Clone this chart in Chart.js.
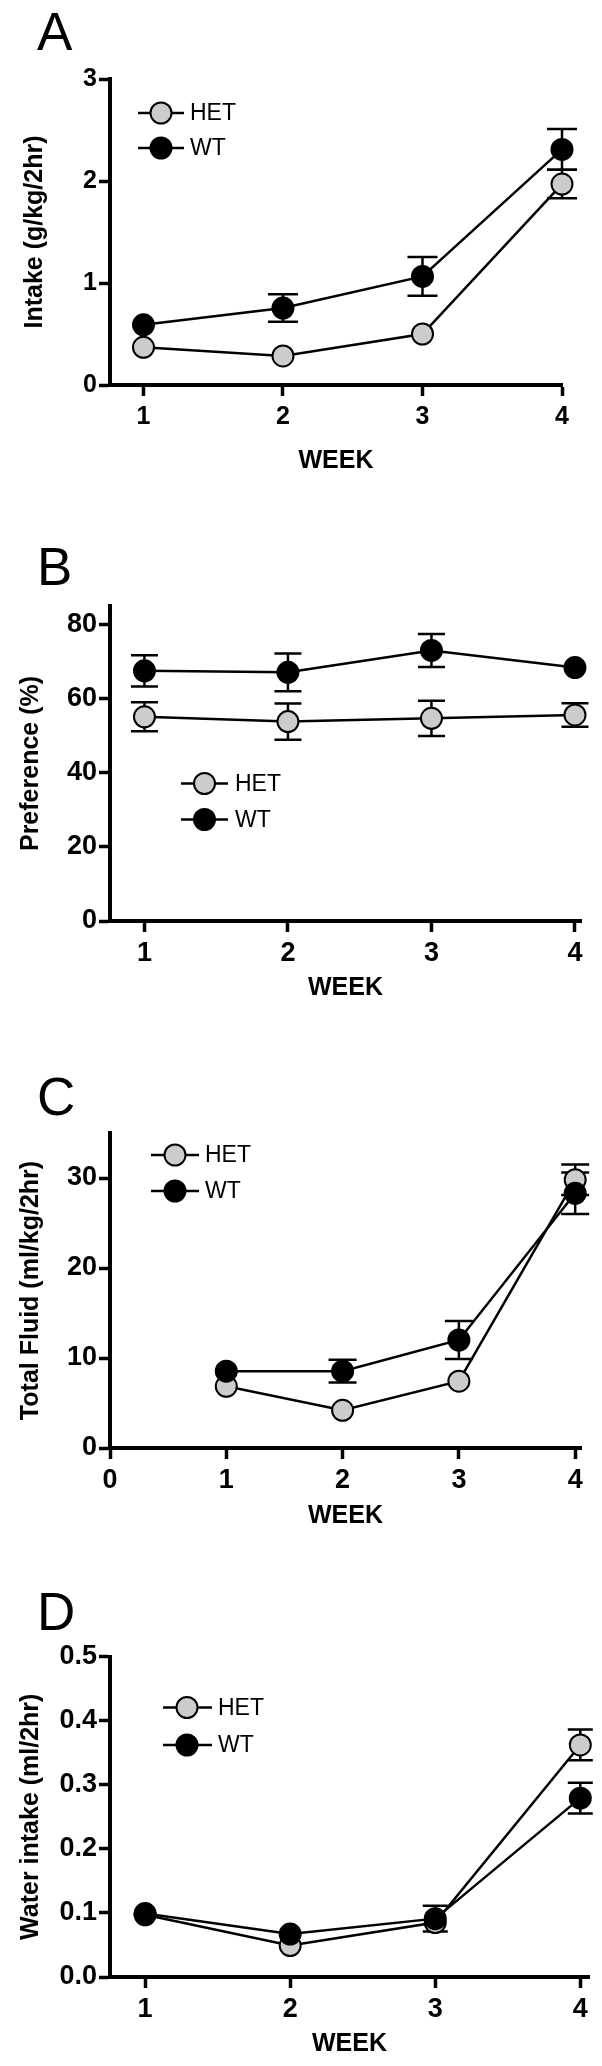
<!DOCTYPE html>
<html>
<head>
<meta charset="utf-8">
<script src="https://cdn.jsdelivr.net/npm/chart.js@4.4.1/dist/chart.umd.min.js"></script>
<style>
  html, body { margin: 0; padding: 0; background: #fff; }
  #wrap { position: relative; width: 602px; height: 2066px; overflow: hidden; }
  canvas { position: absolute; left: 0; }
</style>
</head>
<body>
<div id="wrap">
  <canvas id="cA" width="602" height="500" style="top:0px"></canvas>
  <canvas id="cB" width="602" height="520" style="top:500px"></canvas>
  <canvas id="cC" width="602" height="520" style="top:1020px"></canvas>
  <canvas id="cD" width="602" height="526" style="top:1540px"></canvas>
</div>
<script>
// ---------------- DATA ----------------
const weeks = [1, 2, 3, 4];
const seriesNames = ['HET', 'WT'];

// Panel A: Intake (g/kg/2hr)  (error 0 = bar hidden behind the marker)
const hetIntake    = [0.37, 0.285, 0.50, 1.97];
const hetIntakeErr = [0, 0, 0, 0.14];
const wtIntake     = [0.59, 0.754, 1.064, 2.31];
const wtIntakeErr  = [0, 0.135, 0.19, 0.20];
const intakeTicks  = [0, 1, 2, 3];

// Panel B: Preference (%)
const hetPref    = [55.1, 53.8, 54.7, 55.6];
const hetPrefErr = [3.9, 4.9, 4.75, 3.15];
const wtPref     = [67.5, 67.1, 73.0, 68.4];
const wtPrefErr  = [4.2, 5.1, 4.45, 0];
const prefTicks  = [0, 20, 40, 60, 80];

// Panel C: Total Fluid (ml/kg/2hr)
const hetFluid    = [6.86, 4.19, 7.42, 29.8];
const hetFluidErr = [0, 0, 0, 1.7];
const wtFluid     = [8.54, 8.54, 12.0, 28.3];
const wtFluidErr  = [0, 1.26, 2.1, 2.3];
const fluidTicks  = [0, 10, 20, 30];

// Panel D: Water intake (ml/2hr)
const hetWater    = [0.097, 0.049, 0.085, 0.362];
const hetWaterErr = [0, 0, 0, 0.024];
const wtWater     = [0.099, 0.067, 0.091, 0.279];
const wtWaterErr  = [0, 0, 0.02, 0.024];
const waterTicks  = [0, 0.1, 0.2, 0.3, 0.4, 0.5];
const waterTickLabels = ['0.0', '0.1', '0.2', '0.3', '0.4', '0.5'];

const weekTicks  = [1, 2, 3, 4];
const weekTicksC = [0, 1, 2, 3, 4];
const xTitle = 'WEEK';

// ---------------- DRAWING ----------------
const FONT = "'Liberation Sans', Arial, Helvetica, sans-serif";
Chart.defaults.font.family = FONT;
Chart.defaults.color = '#000';

const HET_FILL = '#cccccc';
const WT_FILL = '#000000';

const extras = {
  id: 'extras',
  beforeDatasetsDraw(chart, args, o) {
    const ctx = chart.ctx, xs = chart.scales.x, ys = chart.scales.y;
    ctx.save();
    ctx.strokeStyle = '#000';
    ctx.lineWidth = 2.5;
    chart.data.datasets.forEach(ds => {
      ds.data.forEach((p, j) => {
        const e = ds.errors[j];
        if (!e) return;
        const px = xs.getPixelForValue(p.x);
        const t = ys.getPixelForValue(p.y + e), b = ys.getPixelForValue(p.y - e);
        ctx.beginPath();
        ctx.moveTo(px, t); ctx.lineTo(px, b);
        ctx.moveTo(px - o.cap, t); ctx.lineTo(px + o.cap, t);
        ctx.moveTo(px - o.cap, b); ctx.lineTo(px + o.cap, b);
        ctx.stroke();
      });
    });
    ctx.restore();
  },
  afterDraw(chart, args, o) {
    const ctx = chart.ctx;
    ctx.save();
    ctx.fillStyle = '#000';
    ctx.font = '53px ' + FONT;
    ctx.textAlign = 'left';
    ctx.textBaseline = 'alphabetic';
    ctx.fillText(o.letter, o.letterX, o.letterY);
    const L = o.legend;
    seriesNames.forEach((name, k) => {
      const ds = chart.data.datasets.find(d => d.label === name);
      const y = L.y + k * L.gap;
      ctx.strokeStyle = '#000';
      ctx.lineWidth = 2.5;
      ctx.beginPath(); ctx.moveTo(L.x1, y); ctx.lineTo(L.x2, y); ctx.stroke();
      ctx.beginPath(); ctx.arc(L.cx, y, 10.5, 0, Math.PI * 2);
      ctx.fillStyle = ds.pointBackgroundColor; ctx.fill();
      ctx.lineWidth = 2; ctx.stroke();
      ctx.fillStyle = '#000';
      ctx.font = '23px ' + FONT;
      ctx.textBaseline = 'middle';
      ctx.fillText(name, L.tx, y + 1);
    });
    ctx.restore();
  }
};

function makeDataset(label, xs, ys, errs, fill) {
  return {
    label: label,
    data: xs.map((x, i) => ({ x: x, y: ys[i] })),
    errors: errs,
    borderColor: '#000',
    borderWidth: 2.5,
    pointRadius: 10.5,
    pointHoverRadius: 10.5,
    pointBorderWidth: 2,
    pointBorderColor: '#000',
    pointBackgroundColor: fill,
    tension: 0,
    clip: false,
    fill: false
  };
}

function makePanel(p) {
  const H = document.getElementById(p.id).height;
  new Chart(document.getElementById(p.id), {
    type: 'line',
    data: {
      datasets: [
        makeDataset('WT', weeks, p.wt, p.wtErr, WT_FILL),
        makeDataset('HET', weeks, p.het, p.hetErr, HET_FILL)
      ]
    },
    options: {
      responsive: false,
      animation: false,
      devicePixelRatio: 1,
      layout: { padding: { left: 0, top: p.top, right: 602 - p.right, bottom: 0 } },
      plugins: {
        legend: { display: false },
        tooltip: { enabled: false },
        extras: { cap: p.cap, letter: p.letter, letterX: 37, letterY: p.letterY, legend: p.legend }
      },
      scales: {
        x: {
          type: 'linear',
          min: p.xmin, max: p.xmax,
          afterBuildTicks: s => { s.ticks = p.xticks.map(v => ({ value: v })); },
          afterFit: s => { s.height = H - p.bottom; },
          border: { display: true, color: '#000', width: 4 },
          grid: { display: true, drawOnChartArea: false, drawTicks: true, tickLength: 11, tickWidth: 3.5, tickColor: '#000', color: '#000' },
          ticks: { font: { size: p.tickSize, weight: 'bold' }, padding: p.xtickPad, color: '#000', maxRotation: 0, autoSkip: false },
          title: { display: true, text: xTitle, font: { size: 25, weight: 'bold' }, color: '#000', padding: { top: 0, bottom: p.xtitlePad } }
        },
        y: {
          type: 'linear',
          min: p.ymin, max: p.ymax,
          afterBuildTicks: s => { s.ticks = p.yticks.map(v => ({ value: v })); },
          afterFit: s => { s.width = p.left; },
          border: { display: true, color: '#000', width: 4 },
          grid: { display: true, drawOnChartArea: false, drawTicks: true, tickLength: 11, tickWidth: 3.5, tickColor: '#000', color: '#000' },
          ticks: { font: { size: p.tickSize, weight: 'bold' }, padding: 2, color: '#000', autoSkip: false,
                   callback: (v, i) => p.ylabels ? p.ylabels[i] : String(v) },
          title: { display: true, text: p.ytitle, font: { size: 25, weight: 'bold' }, color: '#000', padding: { top: p.ytitlePad, bottom: 0 } }
        }
      }
    },
    plugins: [extras]
  });
}

makePanel({
  id: 'cA', letter: 'A', letterY: 50,
  top: 79, bottom: 385, left: 110, right: 562,
  xmin: 0.76, xmax: 4.0, ymin: 0, ymax: 3,
  xticks: weekTicks, yticks: intakeTicks, tickSize: 25, xtickPad: 6,
  het: hetIntake, hetErr: hetIntakeErr, wt: wtIntake, wtErr: wtIntakeErr,
  ytitle: 'Intake (g/kg/2hr)', ytitlePad: 20, xtitlePad: 24, cap: 15,
  legend: { x1: 138, x2: 184, cx: 161, tx: 190, y: 113, gap: 35 }
});
makePanel({
  id: 'cB', letter: 'B', letterY: 85,
  top: 106, bottom: 421, left: 110, right: 581,
  xmin: 0.76, xmax: 4.042, ymin: 0, ymax: 85,
  xticks: weekTicks, yticks: prefTicks, tickSize: 27, xtickPad: 5,
  het: hetPref, hetErr: hetPrefErr, wt: wtPref, wtErr: wtPrefErr,
  ytitle: 'Preference (%)', ytitlePad: 16, xtitlePad: 17, cap: 13.5,
  legend: { x1: 181, x2: 228, cx: 204.5, tx: 235, y: 283.5, gap: 36 }
});
makePanel({
  id: 'cC', letter: 'C', letterY: 95,
  top: 113, bottom: 428, left: 110, right: 581,
  xmin: 0, xmax: 4.05, ymin: 0, ymax: 35,
  xticks: weekTicksC, yticks: fluidTicks, tickSize: 27, xtickPad: 5,
  het: hetFluid, hetErr: hetFluidErr, wt: wtFluid, wtErr: wtFluidErr,
  ytitle: 'Total Fluid (ml/kg/2hr)', ytitlePad: 16, xtitlePad: 9, cap: 14,
  legend: { x1: 151, x2: 199, cx: 175, tx: 205, y: 135, gap: 36 }
});
makePanel({
  id: 'cD', letter: 'D', letterY: 90,
  top: 116.5, bottom: 437, left: 110, right: 589,
  xmin: 0.758, xmax: 4.06, ymin: 0, ymax: 0.5,
  xticks: weekTicks, yticks: waterTicks, ylabels: waterTickLabels, tickSize: 27, xtickPad: 5,
  het: hetWater, hetErr: hetWaterErr, wt: wtWater, wtErr: wtWaterErr,
  ytitle: 'Water intake (ml/2hr)', ytitlePad: 16, xtitlePad: 7, cap: 12.5,
  legend: { x1: 163, x2: 212, cx: 187, tx: 218, y: 167.5, gap: 37.5 }
});
</script>
</body>
</html>
